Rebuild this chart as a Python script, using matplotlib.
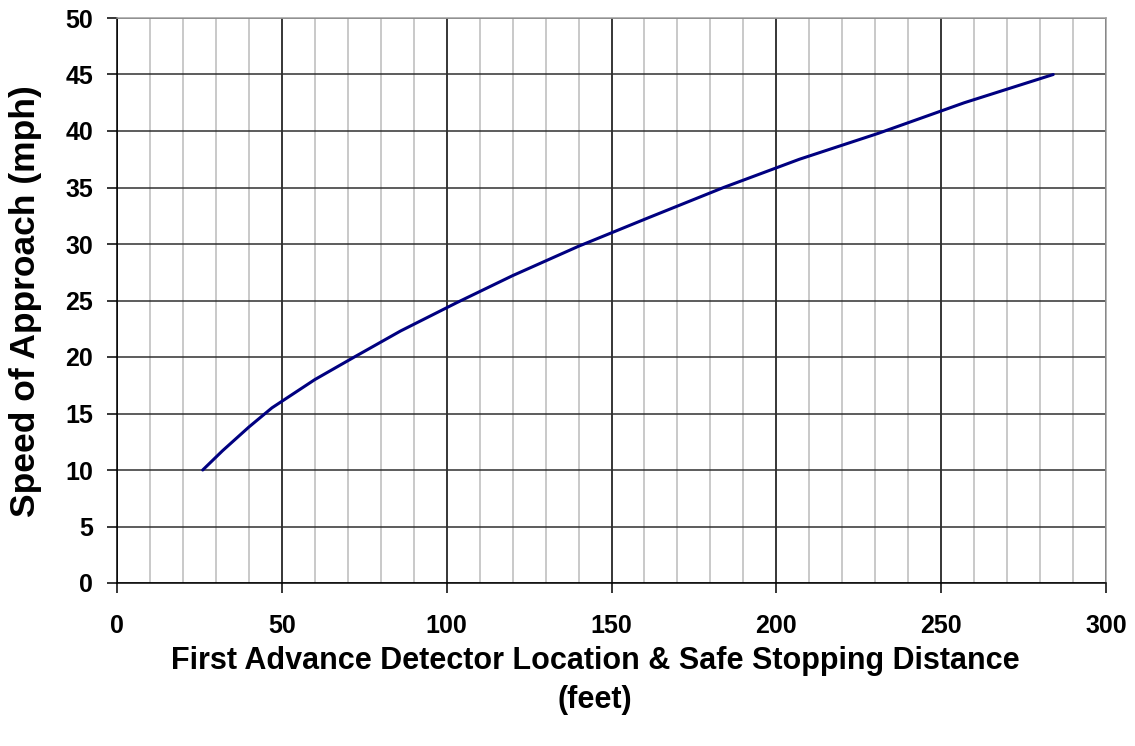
import matplotlib
matplotlib.use("Agg")
import matplotlib.pyplot as plt
from matplotlib.ticker import MultipleLocator

# Safe stopping distance (feet) vs. approach speed (mph)
distance_ft = [26, 32, 40, 47, 60, 72, 86, 103, 120, 140, 161, 184, 207, 231, 257, 284]
speed_mph = [10, 11.7, 13.8, 15.5, 18, 20, 22.3, 24.8, 27.2, 29.8, 32.3, 35, 37.5, 39.8, 42.5, 45]

plt.rcParams['font.family'] = ['Liberation Sans', 'DejaVu Sans']

W, H = 1135, 746
fig = plt.figure(figsize=(W / 100, H / 100), dpi=100)
ax = fig.add_axes([117 / W, 1 - 583 / H, (1106 - 117) / W, (583 - 18) / H])

ax.plot(distance_ft, speed_mph, color='#000080', linewidth=2.2, solid_capstyle='round', zorder=3)

ax.set_xlim(0, 300)
ax.set_ylim(0, 50)
ax.xaxis.set_major_locator(MultipleLocator(50))
ax.xaxis.set_minor_locator(MultipleLocator(10))
ax.yaxis.set_major_locator(MultipleLocator(5))

# grid: light minor verticals, dark majors
ax.grid(which='minor', axis='x', color='#c0c0c0', linewidth=1.2)
ax.grid(which='major', axis='x', color='black', linewidth=1.1)
ax.grid(which='major', axis='y', color='#303030', linewidth=1.1)
ax.set_axisbelow(True)

ax.tick_params(which='major', direction='out', length=7.2, width=1.1, color='black', labelsize=18)
ax.tick_params(which='minor', length=0)
ax.tick_params(axis='x', pad=15)
ax.tick_params(axis='y', pad=10)
for lbl in ax.get_xticklabels() + ax.get_yticklabels():
    lbl.set_fontweight('bold')

ax.spines['left'].set_color('black')
ax.spines['bottom'].set_color('black')
ax.spines['top'].set_color('#a0a0a0')
ax.spines['right'].set_color('#a0a0a0')
for s in ax.spines.values():
    s.set_linewidth(1.1)

# axis titles placed like the Excel original
fig.text(26 / W, 1 - 301 / H, 'Speed of Approach (mph)', rotation=90, ha='center', va='center',
         fontsize=25.5, fontweight='bold')
fig.text(595 / W, 1 - 661 / H, 'First Advance Detector Location & Safe Stopping Distance',
         ha='center', va='center', fontsize=22, fontweight='bold')
fig.text(595 / W, 1 - 700 / H, '(feet)', ha='center', va='center', fontsize=22, fontweight='bold')

fig.savefig('out.png', dpi=100, facecolor='white')
